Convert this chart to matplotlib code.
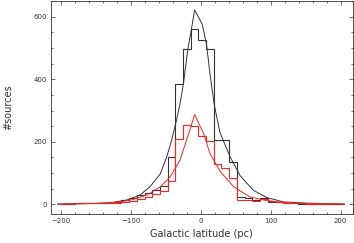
import numpy as np
import matplotlib.pyplot as plt
from matplotlib.ticker import MultipleLocator

# histogram bin edges (pc)
edges = -201.6 + 11.0 * np.arange(38)

# counts per bin, all sources (black) and subsample (red)
counts_all = [1, 2, 3, 3, 4, 5, 6, 8, 14, 19, 30, 37, 45, 58,
              150, 385, 496, 559, 525, 496, 206, 206, 136,
              22, 19, 15, 19, 9, 7, 5, 3, 2, 2, 1, 1, 1, 0]
counts_sub = [1, 2, 3, 3, 4, 4, 5, 5, 7, 12, 17, 24, 33, 42,
              75, 210, 254, 249, 217, 201, 128, 116, 83,
              15, 15, 11, 17, 11, 7, 5, 4, 3, 2, 2, 2, 1, 0]

# fitted profiles
fit_all_x = [-205, -180, -150, -130, -106, -87, -73, -58, -49, -42, -35, -30,
             -25, -19, -14, -9, 2, 8, 13, 19, 27, 32, 42, 56, 75, 94, 118, 150,
             180, 205]
fit_all_y = [1, 2, 3, 5, 14, 30, 56, 98, 151, 204, 268, 320,
             385, 491, 554, 621, 575, 512, 417, 320, 232, 204, 151, 92, 45, 22,
             8, 4, 2, 1]
fit_sub_x = [-205, -180, -150, -120, -97, -77, -58, -44, -30, -16, -9, 4, 13,
             28, 47, 70, 94, 123, 150, 180, 205]
fit_sub_y = [1, 2, 3, 6, 16, 30, 56, 88, 141, 236, 287, 226, 162,
             104, 56, 24, 12, 5, 3, 2, 1]

fig = plt.figure(figsize=(3.54, 2.43), dpi=100)
ax = fig.add_axes([0.143, 0.119, 0.853, 0.877])

black = '#333333'
red = '#ff2020'
ax.stairs(counts_all, edges, color=black, lw=0.8)
ax.stairs(counts_sub, edges, color=red, lw=0.8)
ax.plot(fit_all_x, fit_all_y, color=black, lw=0.7)
ax.plot(fit_sub_x, fit_sub_y, color=red, lw=0.7)

ax.set_xlim(-215, 217)
ax.set_ylim(-31, 650)
ax.xaxis.set_major_locator(MultipleLocator(100))
ax.xaxis.set_minor_locator(MultipleLocator(20))
ax.yaxis.set_major_locator(MultipleLocator(200))
ax.yaxis.set_minor_locator(MultipleLocator(50))
ax.tick_params(which='both', direction='in', top=True, right=True,
               width=0.5, colors='#333333', labelsize=5, pad=2.5)
ax.tick_params(which='major', length=3)
ax.tick_params(which='minor', length=1.6)
for s in ax.spines.values():
    s.set_linewidth(0.6)
    s.set_color('#333333')

ax.set_xlabel('Galactic latitude (pc)', fontsize=7, color='#333333', labelpad=4)
ax.set_ylabel('#sources', fontsize=7, color='#333333', labelpad=15)

fig.savefig('out.png', dpi=100)
